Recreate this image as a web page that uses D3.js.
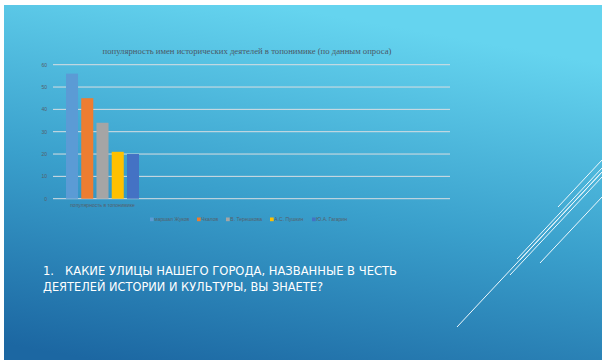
<!DOCTYPE html>
<html>
<head>
<meta charset="utf-8">
<script src="https://cdn.jsdelivr.net/npm/d3@7"></script>
<style>
  html, body { margin: 0; padding: 0; background: #fff; }
  svg { display: block; }
</style>
</head>
<body>
<div id="chart"></div>
<script>
var chartTitle = "популярность имен исторических деятелей в топонимике (по данным опроса)";
var categories = ["популярность в топонимике"];
var seriesNames = ["маршал Жуков", "Чкалов", "В. Терешкова", "А.С. Пушкин", "Ю.А. Гагарин"];
var seriesValues = [56, 45, 34, 21, 20];
var seriesColors = ["#5b9bd5", "#ed7d31", "#a5a5a5", "#ffc000", "#4472c4"];
var yTicks = [0, 10, 20, 30, 40, 50, 60];
var headingLines = ["1.   КАКИЕ УЛИЦЫ НАШЕГО ГОРОДА, НАЗВАННЫЕ В ЧЕСТЬ",
  "ДЕЯТЕЛЕЙ ИСТОРИИ И КУЛЬТУРЫ, ВЫ ЗНАЕТЕ?"];

var W = 602, H = 363;
var svg = d3.select("#chart").append("svg")
  .attr("width", W).attr("height", H);

// slide background
var defs = svg.append("defs");
var grad = defs.append("linearGradient").attr("id", "bg")
  .attr("x1", 0.15).attr("y1", 1).attr("x2", 0.45).attr("y2", 0);
grad.append("stop").attr("offset", 0).attr("stop-color", "#1c67a2");
grad.append("stop").attr("offset", 0.5).attr("stop-color", "#3aa0cc");
grad.append("stop").attr("offset", 1).attr("stop-color", "#65d4ef");

svg.append("rect")
  .attr("x", 4).attr("y", 5).attr("width", W - 4).attr("height", 355)
  .attr("fill", "url(#bg)");

// decorative diagonal lines
var deco = [
  [558, 207, 602, 160],
  [517, 259, 602, 168],
  [520, 260, 602, 172],
  [510, 275, 602, 177],
  [457, 327, 602, 172],
  [540, 263, 602, 197]
];
svg.append("g").selectAll("line")
  .data(deco).enter().append("line")
  .attr("x1", d => d[0]).attr("y1", d => d[1])
  .attr("x2", d => d[2]).attr("y2", d => d[3])
  .attr("stroke", "#eef8fc").attr("stroke-width", 1);

// chart
var plotLeft = 53, plotRight = 450, plotTop = 64.7, plotBottom = 198.7;

var y = d3.scaleLinear().domain([0, 60]).range([plotBottom, plotTop]);

var x0 = d3.scaleBand().domain(categories)
  .range([plotLeft, 152]).paddingInner(0).paddingOuter(0.178);
var x1 = d3.scaleBand().domain(seriesNames)
  .range([0, x0.bandwidth()]).paddingInner(0.21).paddingOuter(0);

svg.append("text")
  .attr("x", 247).attr("y", 54)
  .attr("text-anchor", "middle")
  .attr("textLength", 289)
  .attr("lengthAdjust", "spacingAndGlyphs")
  .style("font-family", "Liberation Serif, serif")
  .style("font-size", "8.6px")
  .attr("fill", "#4a5866")
  .text(chartTitle);

// grid
svg.append("g").selectAll("line")
  .data(yTicks).enter().append("line")
  .attr("x1", plotLeft).attr("x2", plotRight)
  .attr("y1", d => y(d)).attr("y2", d => y(d))
  .attr("stroke", "#d9dee2").attr("stroke-width", 1);

// y axis labels
var yAxis = svg.append("g")
  .attr("transform", "translate(" + (plotLeft - 6) + ",0)")
  .call(d3.axisLeft(y).tickValues(yTicks).tickSize(0).tickPadding(0));
yAxis.select(".domain").remove();
yAxis.selectAll("text")
  .style("font-family", "Liberation Sans, sans-serif")
  .style("font-size", "5px")
  .attr("fill", "#55606a");

// bars
var groups = svg.append("g").selectAll("g")
  .data(categories).enter().append("g")
  .attr("transform", d => "translate(" + x0(d) + ",0)");

groups.selectAll("rect")
  .data(seriesNames.map((s, i) => ({ name: s, value: seriesValues[i], color: seriesColors[i] })))
  .enter().append("rect")
  .attr("x", d => x1(d.name))
  .attr("y", d => y(d.value))
  .attr("width", x1.bandwidth())
  .attr("height", d => y(0) - y(d.value))
  .attr("fill", d => d.color);

// category axis
var xAxis = svg.append("g")
  .attr("transform", "translate(0," + plotBottom + ")")
  .call(d3.axisBottom(x0).tickSize(0).tickPadding(5));
xAxis.select(".domain").remove();
xAxis.selectAll("text")
  .style("font-family", "Liberation Sans, sans-serif")
  .style("font-size", "5px")
  .attr("fill", "#55606a");

// legend
var legendX = [150, 197, 226, 270, 312];
var legend = svg.append("g").selectAll("g")
  .data(seriesNames).enter().append("g")
  .attr("transform", (d, i) => "translate(" + legendX[i] + ",217.5)");
legend.append("rect")
  .attr("width", 3.7).attr("height", 3.7)
  .attr("fill", (d, i) => seriesColors[i]);
legend.append("text")
  .attr("x", 4.3).attr("y", 3.6)
  .style("font-family", "Liberation Sans, sans-serif")
  .style("font-size", "5px")
  .attr("fill", "#55606a")
  .text(d => d);

// slide heading
svg.append("g").selectAll("text")
  .data(headingLines).enter().append("text")
  .attr("x", 43)
  .attr("y", (d, i) => 275 + i * 16)
  .attr("textLength", (d, i) => i === 0 ? 354 : 280)
  .attr("lengthAdjust", "spacingAndGlyphs")
  .style("white-space", "pre")
  .style("font-family", "DejaVu Sans, sans-serif")
  .style("font-size", "12px")
  .attr("fill", "#ffffff")
  .text(d => d);
</script>
</body>
</html>
